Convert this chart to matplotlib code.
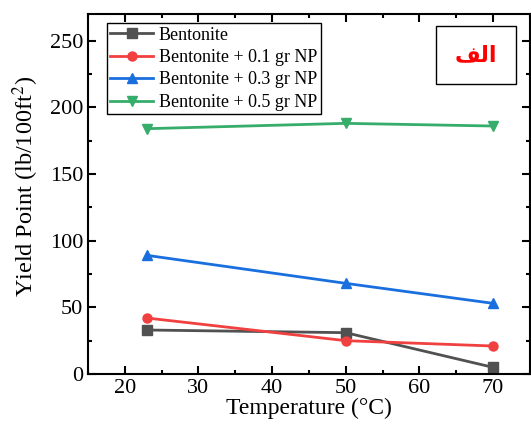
import matplotlib
matplotlib.use("Agg")
import matplotlib.pyplot as plt
from matplotlib.ticker import MultipleLocator

plt.rcParams['font.family'] = ['Liberation Serif', 'DejaVu Sans']
plt.rcParams['mathtext.fontset'] = 'stix'

temps = [23, 50, 70]
bentonite = [33, 31, 5]
np01 = [42, 25, 21]
np03 = [89, 68, 53]
np05 = [184, 188, 186]

labels = ['Bentonite', 'Bentonite + 0.1 gr NP', 'Bentonite + 0.3 gr NP', 'Bentonite + 0.5 gr NP']
colors = ['#515151', '#F14040', '#1A6FDF', '#37AD6B']
markers = ['s', 'o', '^', 'v']

fig = plt.figure(figsize=(5.31, 4.25), dpi=100)
ax = fig.add_axes([0.1657, 0.12, 0.832, 0.847])

for ys, lab, c, m in zip([bentonite, np01, np03, np05], labels, colors, markers):
    ax.plot(temps, ys, color=c, marker=m, markersize=6.5, linewidth=2, label=lab)

ax.set_xlim(15, 75)
ax.set_ylim(0, 270)
ax.xaxis.set_major_locator(MultipleLocator(10))
ax.xaxis.set_minor_locator(MultipleLocator(5))
ax.yaxis.set_major_locator(MultipleLocator(50))
ax.yaxis.set_minor_locator(MultipleLocator(25))
ax.tick_params(which='both', direction='in', top=True, right=True, width=1.5, labelsize=16)
ax.tick_params(which='major', length=6)
ax.tick_params(which='minor', length=3)
for s in ax.spines.values():
    s.set_linewidth(1.5)

ax.set_xlabel('Temperature (°C)', fontsize=17, labelpad=0)
ax.set_ylabel('Yield Point (lb/100ft$^2$)', fontsize=17.5)
ax.yaxis.set_label_coords(-0.107, 0.52)

leg = ax.legend(loc='upper left', bbox_to_anchor=(0.042, 0.975), fontsize=13, frameon=True,
                fancybox=False, edgecolor='black', framealpha=1, borderpad=0.2,
                labelspacing=0.3, handlelength=2.4, handletextpad=0.3, borderaxespad=0)
leg.get_frame().set_linewidth(1.0)

# Arabic label "الف" in presentation forms (left-to-right visual order)
ax.text(0.878, 0.886, '\uFED2\uFEDF\uFE8D', transform=ax.transAxes, color='red',
        fontsize=16, fontweight='bold', ha='center', va='center', family=['DejaVu Sans'],
        bbox=dict(boxstyle='square,pad=0.85', facecolor='white', edgecolor='black', linewidth=1.0))

fig.savefig('out.png', dpi=100)
